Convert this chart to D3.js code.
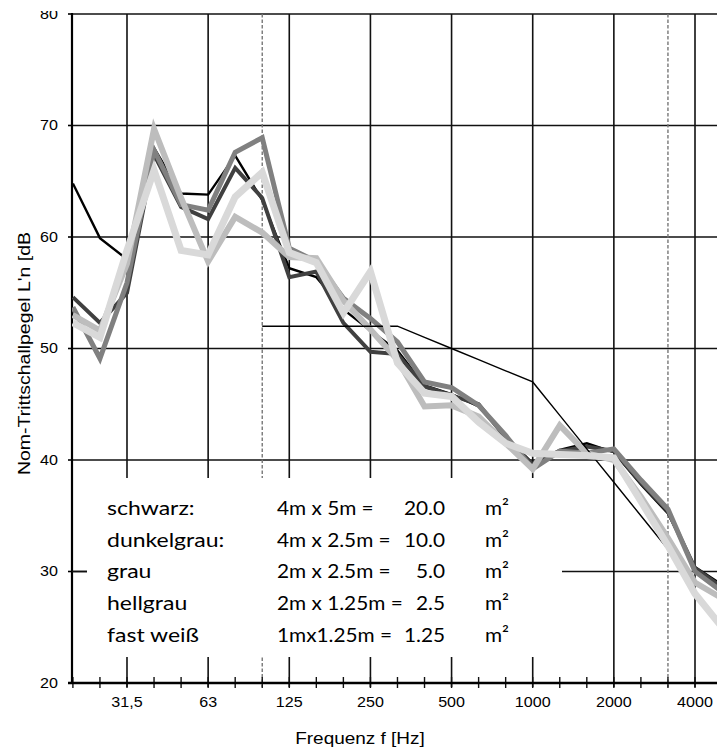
<!DOCTYPE html>
<html><head><meta charset="utf-8">
<script src="https://cdn.jsdelivr.net/npm/d3@7"></script>
<style>html,body{margin:0;padding:0;background:#fff;}svg{display:block;}</style>
</head><body>
<script>
// third-octave band centre frequencies (x categories)
const bands = ["20","25","31,5","40","50","63","80","100","125","160","200","250","315","400","500","630","800","1000","1250","1600","2000","2500","3150","4000","5000"];
const octaveTickLabels = ["31,5","63","125","250","500","1000","2000","4000"];
const yTicks = [20,30,40,50,60,70,80];
const dashedBands = ["100","3150"];

// series values, one per band (dB)
const schwarz     = [64.8,59.9,58.0,68.0,63.9,63.8,67.3,63.3,57.2,56.4,53.5,51.6,49.8,46.7,45.9,44.8,42.1,39.7,40.9,41.5,40.7,37.8,35.2,30.4,28.8];
const dunkelgrau  = [54.6,52.3,55.0,67.4,62.7,61.6,66.2,63.5,56.4,56.9,52.3,49.7,49.5,46.6,45.8,45.0,42.0,39.6,40.8,41.2,40.8,38.0,35.4,30.3,28.6];
const grau        = [53.7,49.1,55.9,67.8,62.9,62.4,67.6,68.9,59.0,57.8,54.5,52.7,50.6,47.0,46.5,44.9,42.2,39.2,40.8,40.6,41.0,38.2,35.6,30.0,28.2];
const hellgrau    = [53.0,51.6,57.6,69.7,63.5,57.8,61.8,60.4,58.2,58.1,54.3,51.7,49.0,44.8,44.9,43.9,41.5,39.2,43.1,40.6,40.0,36.7,33.0,29.0,27.6];
const fastWeiss   = [52.3,51.0,58.8,66.0,58.8,58.4,63.6,65.8,58.6,57.7,53.2,56.9,48.7,46.0,45.7,43.4,41.5,40.6,40.5,40.4,40.2,36.3,32.3,28.0,25.0];
// shifted reference curve (100 .. 3150 Hz)
const refBands  = ["100","125","160","200","250","315","400","500","630","800","1000","1250","1600","2000","2500","3150"];
const refValues = [52,52,52,52,52,52,51,50,49,48,47,44,41,38,35,32];

const legendNames = ["schwarz:","dunkelgrau:","grau","hellgrau","fast weiß"];
const legendDims  = ["4m x 5m =","4m x 2.5m =","2m x 2.5m =","2m x 1.25m =","1mx1.25m ="];
const legendAreas = ["20.0","10.0","5.0","2.5","1.25"];

const W = 717, H = 748;
const svg = d3.select("body").append("svg").attr("width", W).attr("height", H);

const x = d3.scaleLinear().domain([0, 23]).range([72.9, 695]);
const xb = b => x(bands.indexOf(b));
const y = d3.scaleLinear().domain([20, 80]).range([683, 14]);
const L = 72, R = 740, T = y(80), B = y(20);

function txt(g, s, px, py, opts) {
  const sx = opts.sx || 1.15;
  const t = g.append("text").text(s)
    .attr("transform", `translate(${px},${py}) scale(${sx},1)`)
    .attr("font-family", opts.family || "'Liberation Sans', Arial, sans-serif")
    .attr("font-size", opts.size || 14)
    .attr("fill", "#000")
    .attr("text-anchor", opts.anchor || "start");
  if (opts.dy) t.attr("dy", opts.dy);
  return t;
}

const grid = svg.append("g");
grid.selectAll("line.h").data(yTicks.filter(v => v > 20)).join("line")
  .attr("x1", L).attr("x2", R).attr("y1", d => y(d)).attr("y2", d => y(d))
  .attr("stroke", "#111").attr("stroke-width", 1.6);
grid.selectAll("line.v").data(octaveTickLabels).join("line")
  .attr("x1", d => xb(d)).attr("x2", d => xb(d)).attr("y1", T).attr("y2", B + 4)
  .attr("stroke", "#111").attr("stroke-width", 1.6);
grid.selectAll("line.d").data(dashedBands).join("line")
  .attr("x1", d => xb(d)).attr("x2", d => xb(d)).attr("y1", T).attr("y2", B + 4)
  .attr("stroke", "#777").attr("stroke-width", 1.4).attr("stroke-dasharray", "3.5,2");
grid.selectAll("line.m").data(bands).join("line")
  .attr("x1", d => xb(d)).attr("x2", d => xb(d)).attr("y1", B - 6).attr("y2", B + 5)
  .attr("stroke", "#111").attr("stroke-width", 1.4);

// white legend box covering grid
svg.append("rect").attr("x", 87).attr("y", 478).attr("width", 562 - 87).attr("height", 657 - 478).attr("fill", "#fff");

// axes
const ax = svg.append("g");
ax.append("line").attr("x1", L).attr("x2", L).attr("y1", T - 1).attr("y2", B + 1).attr("stroke", "#000").attr("stroke-width", 2.2);
ax.append("line").attr("x1", L - 4).attr("x2", R).attr("y1", B).attr("y2", B).attr("stroke", "#000").attr("stroke-width", 2.4);
ax.selectAll("line.yt").data(yTicks).join("line")
  .attr("x1", L - 4).attr("x2", L).attr("y1", d => y(d)).attr("y2", d => y(d))
  .attr("stroke", "#000").attr("stroke-width", 1.6);
ax.append("line").attr("x1", L).attr("x2", 87).attr("y1", y(30)).attr("y2", y(30)).attr("stroke", "#111").attr("stroke-width", 1.6);

yTicks.forEach(v => txt(ax, String(v), 58, y(v), {anchor: "end", dy: "0.35em", size: 14}));
octaveTickLabels.forEach(b => txt(ax, b, xb(b), 707, {anchor: "middle", size: 14}));
svg.append("rect").attr("x", 0).attr("y", 0).attr("width", 70).attr("height", 11).attr("fill", "#fff");

txt(svg, "Frequenz f [Hz]", 360, 744, {anchor: "middle", size: 16.5});
svg.append("text").text("Nom-Trittschallpegel L'n [dB")
  .attr("transform", `translate(30,${(232 + 475) / 2}) rotate(-90)`)
  .attr("font-family", "'Liberation Sans', Arial, sans-serif").attr("font-size", 16)
  .attr("text-anchor", "middle").attr("textLength", 243).attr("lengthAdjust", "spacingAndGlyphs");

// legend text
const lg = svg.append("g");
const rowsY = [515, 547, 578, 610, 642];
const lf1 = {family: "Lato, 'Open Sans', sans-serif", size: 20, sx: 1.15};
const lf2 = {family: "Lato, 'Open Sans', sans-serif", size: 20, sx: 1.04};
legendNames.forEach((s, i) => txt(lg, s, 107, rowsY[i], lf1));
legendDims.forEach((s, i) => txt(lg, s, 277, rowsY[i], lf2));
legendAreas.forEach((s, i) => txt(lg, s, 445, rowsY[i], Object.assign({anchor: "end"}, lf2)));
legendAreas.forEach((s, i) => txt(lg, "m²", 485, rowsY[i], lf2));

// data lines
svg.append("clipPath").attr("id", "pc").append("rect").attr("x", L).attr("y", T - 6).attr("width", 700).attr("height", B - T + 6);
const line = d3.line().x((d, i) => x(i)).y(d => y(d));
const plot = svg.append("g").attr("clip-path", "url(#pc)");
const series = [
  {v: schwarz, c: "#000000", w: 2.4},
  {v: dunkelgrau, c: "#404040", w: 4},
  {v: grau, c: "#808080", w: 5},
  {v: hellgrau, c: "#bdbdbd", w: 6}
];
series.forEach(s => plot.append("path").attr("d", line(s.v)).attr("fill", "none")
  .attr("stroke", s.c).attr("stroke-width", s.w).attr("stroke-linejoin", "miter").attr("stroke-miterlimit", 10));
const refLine = d3.line().x(d => xb(d[0])).y(d => y(d[1]));
plot.append("path").attr("d", refLine(refBands.map((b, i) => [b, refValues[i]])))
  .attr("fill", "none").attr("stroke", "#000").attr("stroke-width", 1.4);
plot.append("path").attr("d", line(fastWeiss)).attr("fill", "none")
  .attr("stroke", "#d9d9d9").attr("stroke-width", 7).attr("stroke-linejoin", "miter").attr("stroke-miterlimit", 10);
</script>
</body></html>
